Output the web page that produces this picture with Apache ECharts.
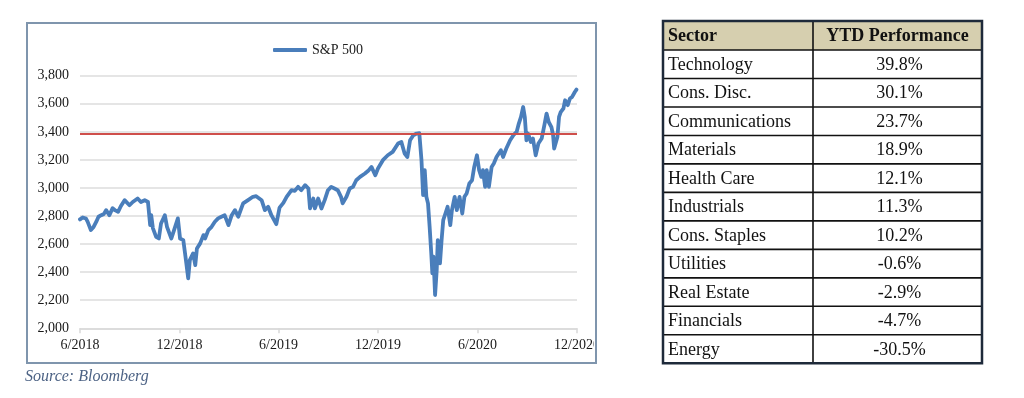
<!DOCTYPE html>
<html>
<head>
<meta charset="utf-8">
<script src="https://cdn.jsdelivr.net/npm/echarts@6/dist/echarts.min.js"></script>
<style>
  html, body { margin: 0; padding: 0; background: #ffffff; }
  #chart { width: 1024px; height: 398px; }
</style>
</head>
<body>
<div id="chart"></div>
<script>
// ---------- DATA ----------
const dates = [
  '2018-06-01','2018-06-06','2018-06-12','2018-06-15','2018-06-21','2018-06-26','2018-07-01','2018-07-05','2018-07-10','2018-07-15',
  '2018-07-19','2018-07-25','2018-07-31','2018-08-05','2018-08-10','2018-08-15','2018-08-22','2018-08-31','2018-09-06','2018-09-15',
  '2018-09-21','2018-09-28','2018-10-04','2018-10-08','2018-10-10','2018-10-13','2018-10-19','2018-10-24','2018-10-28','2018-11-04',
  '2018-11-08','2018-11-16','2018-11-21','2018-11-28','2018-12-02','2018-12-08','2018-12-12','2018-12-17','2018-12-20','2018-12-26',
  '2018-12-30','2019-01-02','2019-01-08','2019-01-14','2019-01-17','2019-01-23','2019-01-29','2019-02-04','2019-02-10','2019-02-16',
  '2019-02-22','2019-03-01','2019-03-07','2019-03-13','2019-03-19','2019-03-28','2019-04-06','2019-04-15','2019-04-21','2019-05-01',
  '2019-05-07','2019-05-13','2019-05-19','2019-05-28','2019-06-03','2019-06-10','2019-06-16','2019-06-25','2019-07-01','2019-07-07',
  '2019-07-13','2019-07-20','2019-07-26','2019-07-29','2019-08-04','2019-08-07','2019-08-13','2019-08-19','2019-08-25','2019-08-31',
  '2019-09-06','2019-09-12','2019-09-18','2019-09-24','2019-09-27','2019-10-04','2019-10-10','2019-10-16','2019-10-22','2019-10-29',
  '2019-11-07','2019-11-13','2019-11-19','2019-11-26','2019-12-01','2019-12-10','2019-12-19','2019-12-28','2020-01-07','2020-01-13',
  '2020-01-19','2020-01-24','2020-01-29','2020-02-04','2020-02-10','2020-02-15','2020-02-19','2020-02-22','2020-02-25','2020-02-28',
  '2020-03-02','2020-03-05','2020-03-08','2020-03-10','2020-03-12','2020-03-15','2020-03-18','2020-03-20','2020-03-24','2020-03-27',
  '2020-03-30','2020-04-03','2020-04-07','2020-04-12','2020-04-15','2020-04-20','2020-04-24','2020-04-29','2020-05-04','2020-05-08',
  '2020-05-12','2020-05-17','2020-05-22','2020-05-26','2020-05-31','2020-06-04','2020-06-08','2020-06-11','2020-06-15','2020-06-18',
  '2020-06-22','2020-06-27','2020-07-01','2020-07-06','2020-07-09','2020-07-14','2020-07-18','2020-07-24','2020-07-31','2020-08-06',
  '2020-08-12','2020-08-16','2020-08-20','2020-08-24','2020-08-27','2020-08-30','2020-09-02','2020-09-07','2020-09-11','2020-09-16',
  '2020-09-21','2020-09-27','2020-10-02','2020-10-06','2020-10-10','2020-10-15','2020-10-18','2020-10-20','2020-10-23','2020-10-26',
  '2020-10-29','2020-11-01','2020-11-06','2020-11-09','2020-11-14','2020-11-18','2020-11-22','2020-11-27','2020-11-30'
];
const spx = [
  2776,2790,2782,2760,2700,2722,2760,2795,2806,2815,
  2842,2806,2856,2840,2830,2870,2913,2877,2900,2925,
  2900,2913,2900,2735,2806,2714,2652,2640,2747,2806,
  2723,2640,2700,2783,2640,2628,2510,2356,2486,2534,
  2450,2569,2605,2664,2640,2700,2723,2759,2783,2795,
  2806,2735,2806,2842,2795,2890,2913,2937,2941,2913,
  2842,2866,2806,2742,2860,2894,2937,2984,2979,3008,
  2984,3020,2996,2854,2925,2854,2925,2854,2913,2984,
  3008,2996,2984,2937,2890,2937,2996,3008,3055,3079,
  3103,3122,3150,3091,3139,3198,3233,3257,3317,3328,
  3245,3221,3340,3376,3388,3390,3198,2949,3127,2937,
  2890,2723,2534,2391,2510,2237,2415,2628,2463,2628,
  2771,2818,2866,2735,2842,2937,2842,2937,2818,2937,
  2961,3032,3055,3150,3233,3127,3079,3127,3008,3127,
  3008,3150,3174,3221,3210,3269,3221,3281,3340,3376,
  3399,3459,3506,3577,3506,3340,3388,3328,3352,3233,
  3317,3352,3447,3530,3470,3434,3376,3281,3269,3364,
  3506,3541,3566,3625,3590,3637,3649,3684,3701
];
const seriesName = 'S&P 500';
const refLevel = 3386;               // red horizontal reference line
const yTicks = { min: 2000, max: 3800, interval: 200 };
const xTickDates = ['2018-06-01','2018-12-01','2019-06-01','2019-12-01','2020-06-01','2020-12-01'];
const sourceText = 'Source: Bloomberg';

const tableHeader = ['Sector', 'YTD Performance'];
const sectors = ['Technology','Cons. Disc.','Communications','Materials','Health Care','Industrials','Cons. Staples','Utilities','Real Estate','Financials','Energy'];
const ytd = ['39.8%','30.1%','23.7%','18.9%','12.1%','11.3%','10.2%','-0.6%','-2.9%','-4.7%','-30.5%'];

// ---------- HELPERS ----------
function toTs(s) { const p = s.split('-'); return new Date(+p[0], +p[1] - 1, +p[2]).getTime(); }
const seriesData = dates.map((d, i) => [toTs(d), spx[i]]);
const xTicks = xTickDates.map(toTs);

// ---------- TABLE (graphic) ----------
const T = { left: 663, div: 813, right: 982, top: 21, headH: 29, rowH: 28.48 };
const serif = '"Liberation Serif", "DejaVu Serif", serif';
const tableEls = [];
const tableBottom = T.top + T.headH + sectors.length * T.rowH;
tableEls.push({ type: 'rect', z: 100, shape: { x: T.left, y: T.top, width: T.right - T.left, height: T.headH }, style: { fill: '#d6cfaf' } });
for (let i = 0; i < sectors.length; i++) {
  const y = T.top + T.headH + i * T.rowH;
  tableEls.push({ type: 'line', z: 101, shape: { x1: T.left, y1: y, x2: T.right, y2: y }, style: { stroke: '#111', lineWidth: 1.6 } });
}
tableEls.push({ type: 'line', z: 101, shape: { x1: T.div, y1: T.top, x2: T.div, y2: tableBottom }, style: { stroke: '#111', lineWidth: 1.6 } });
tableEls.push({ type: 'rect', z: 102, shape: { x: T.left, y: T.top, width: T.right - T.left, height: tableBottom - T.top }, style: { fill: 'none', stroke: '#1e2a3a', lineWidth: 2.5 } });
tableEls.push({ type: 'text', z: 103, style: { x: T.left + 5, y: T.top + T.headH / 2 + 1, text: tableHeader[0], font: 'bold 18px ' + serif, fill: '#111', verticalAlign: 'middle' } });
tableEls.push({ type: 'text', z: 103, style: { x: (T.div + T.right) / 2, y: T.top + T.headH / 2 + 1, text: tableHeader[1], font: 'bold 18px ' + serif, fill: '#111', align: 'center', verticalAlign: 'middle' } });
sectors.forEach((s, i) => {
  const cy = T.top + T.headH + (i + 0.5) * T.rowH + 1;
  tableEls.push({ type: 'text', z: 103, style: { x: T.left + 5, y: cy, text: s, font: '18px ' + serif, fill: '#111', verticalAlign: 'middle' } });
  tableEls.push({ type: 'text', z: 103, style: { x: (T.div + T.right) / 2 + 2, y: cy, text: ytd[i], font: '18px ' + serif, fill: '#111', align: 'center', verticalAlign: 'middle' } });
});

// ---------- CHART ----------
const chart = echarts.init(document.getElementById('chart'), null, { renderer: 'canvas' });
const option = {
  animation: false,
  backgroundColor: '#ffffff',
  textStyle: { fontFamily: serif },
  legend: {
    top: 38, left: 268,
    itemWidth: 34, itemHeight: 4, itemGap: 10,
    icon: 'roundRect',
    textStyle: { fontFamily: serif, fontSize: 14, color: '#222' },
    data: [{ name: seriesName, itemStyle: { color: '#4a7ebb' } }]
  },
  grid: { left: 80, right: 447, top: 75.7, bottom: 69.7, containLabel: false },
  xAxis: {
    type: 'value',
    min: xTicks[0], max: xTicks[xTicks.length - 1],
    axisLine: { show: true, lineStyle: { color: '#d9d9d9', width: 1.5 } },
    axisTick: { show: true, length: 5, customValues: xTicks, lineStyle: { color: '#d9d9d9', width: 1.5 } },
    axisLabel: {
      customValues: xTicks, margin: 10,
      fontFamily: serif, fontSize: 14, color: '#1a1a1a',
      formatter: function (v) { const d = new Date(v); return (d.getMonth() + 1) + '/' + d.getFullYear(); }
    },
    splitLine: { show: false }
  },
  yAxis: {
    type: 'value', min: yTicks.min, max: yTicks.max, interval: yTicks.interval,
    axisLine: { show: false }, axisTick: { show: false },
    axisLabel: { margin: 11, fontFamily: serif, fontSize: 14, color: '#1a1a1a', formatter: v => v.toLocaleString('en-US') },
    splitLine: { show: true, lineStyle: { color: '#dcdcdc', width: 1.5 } }
  },
  series: [{
    name: seriesName, type: 'line', data: seriesData,
    showSymbol: false, symbol: 'none',
    lineStyle: { color: '#4a7ebb', width: 3.8, join: 'round', cap: 'round' },
    itemStyle: { color: '#4a7ebb' },
    z: 3,
    markLine: {
      silent: true, symbol: 'none', label: { show: false },
      lineStyle: { color: '#cf4f4b', width: 2, type: 'solid' },
      data: [{ yAxis: refLevel }]
    }
  }],
  graphic: [
    { type: 'rect', z: 99, shape: { x: 594, y: 332, width: 50, height: 30 }, style: { fill: '#ffffff' } },
    { type: 'rect', z: 100, shape: { x: 27, y: 23, width: 569, height: 340 }, style: { fill: 'none', stroke: '#7f95ad', lineWidth: 2 } },
    { type: 'text', z: 100, style: { x: 25, y: 377, text: sourceText, font: 'italic 16px ' + serif, fill: '#4d6385', verticalAlign: 'middle' } }
  ].concat(tableEls)
};
chart.setOption(option);
</script>
</body>
</html>
